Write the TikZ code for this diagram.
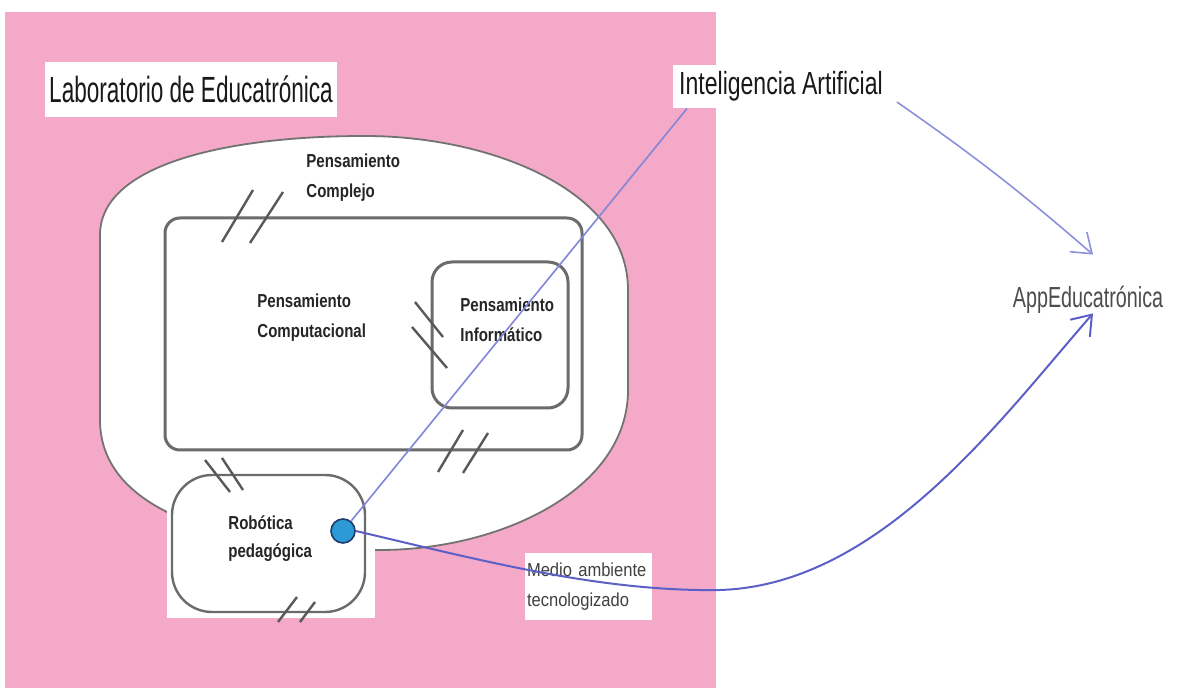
\documentclass[tikz,border=0pt]{standalone}
\usepackage{fontspec}
\setmainfont{Liberation Sans}
\newfontfamily\labfont[FakeStretch=0.62]{Liberation Sans}
\newfontfamily\iafont[FakeStretch=0.72]{Liberation Sans}
\newfontfamily\appfont[FakeStretch=0.68]{Liberation Sans}
\newfontfamily\boldcond[FakeStretch=0.8]{Liberation Sans}
\newfontfamily\medfont[FakeStretch=0.88]{Liberation Sans}
\usetikzlibrary{arrows.meta}
\definecolor{pinkbg}{HTML}{F3A9C7}
\definecolor{lineA}{HTML}{8285D8}
\definecolor{lineB}{HTML}{5C60C6}
\definecolor{lineC}{HTML}{8C8FDC}
\definecolor{dotfill}{HTML}{2D9AD8}
\definecolor{dotdraw}{HTML}{1E3D6A}
\pgfdeclarelayer{front}
\pgfsetlayers{main,front}
\tikzset{
  boldlbl/.style={font=\boldcond\bfseries\fontsize{9.4}{15}\selectfont, inner sep=0, text=black!85, align=left, anchor=west},
  hashmark/.style={draw=black!65, line width=1.2pt},
  frameline/.style={draw=black!58, line width=1.5pt},
  arrowline/.style={lineC, line width=0.8pt, -{Straight Barb[length=9pt,width=13pt]}}
}
\begin{document}
\begin{tikzpicture}[x=0.5pt,y=-0.5pt]
\useasboundingbox (0,0) rectangle (1192,688);
\fill[pinkbg] (5,12) rectangle (716,688);
% big shape: Pensamiento Complejo
\draw[draw=black!55, line width=0.9pt, fill=white]
  (100,235) .. controls (100,165) and (225,136) .. (365,136)
  .. controls (490,136) and (628,190) .. (628,290) -- (628,390)
  .. controls (628,490) and (500,550) .. (380,550)
  .. controls (250,550) and (100,520) .. (100,420) -- cycle;
\fill[white] (167,480) rectangle (375,618);
% Pensamiento Computacional frame
\draw[frameline, rounded corners=7.5pt] (165,218) rectangle (582,450);
% Pensamiento Informatico frame
\draw[frameline, rounded corners=10pt] (432,262) rectangle (568,408);
% Robotica frame
\draw[draw=black!58, line width=1.2pt, rounded corners=20pt] (172,475) rectangle (365,612);
% hash marks
\draw[hashmark] (253,190) -- (222,242);
\draw[hashmark] (283,192) -- (250,243);
\draw[hashmark] (415,302) -- (443,337);
\draw[hashmark] (412,327) -- (447,368);
\draw[hashmark] (463,430) -- (438,472);
\draw[hashmark] (488,433) -- (463,473);
\draw[hashmark] (205,460) -- (230,492);
\draw[hashmark] (222,458) -- (243,490);
\draw[hashmark] (297,597) -- (278,622);
\draw[hashmark] (315,602) -- (300,622);
% labels
\node[boldlbl] (pcomp) at (306,178) {Pensamiento\\Complejo};
\node[boldlbl] (pcomput) at (257,317.5) {Pensamiento\\Computacional};
\node[boldlbl] (pinf) at (460,320) {Pensamiento\\Informático};
\node[boldlbl, font=\boldcond\bfseries\fontsize{9.4}{14}\selectfont] (robot) at (228,539) {Robótica\\pedagógica};
\node[fill=white, minimum width=146pt, minimum height=27.5pt, inner sep=0,
      font=\labfont\fontsize{18.2}{20}\selectfont, text=black!90] (lab) at (191,89.5) {Laboratorio de Educatrónica};
\node[fill=white, minimum width=108.5pt, minimum height=21.5pt, inner sep=0,
      font=\iafont\fontsize{16}{18}\selectfont, text=black!90] (ia) at (781,86.5) {Inteligencia Artificial};
\node[inner sep=0, minimum height=24pt, font=\appfont\fontsize{14.5}{16}\selectfont, text=black!70] (app) at (1088,300) {AppEducatrónica};
\node[fill=white, minimum height=33.5pt, inner xsep=1pt, inner ysep=0pt, text width=61.5pt, align=left,
      font=\medfont\fontsize{9.4}{15}\selectfont, text=black!75] (medio) at (588.5,586.5) {Medio ambiente\\tecnologizado};
% dot on front layer
\begin{pgfonlayer}{front}
\node[circle, fill=dotfill, draw=dotdraw, line width=0.8pt, minimum size=12pt, inner sep=0] (dot) at (343,531) {};
\end{pgfonlayer}
% connectors
\draw[lineA, line width=0.8pt] (dot) -- ([xshift=7.5pt]ia.south west);
\draw[lineB, line width=1pt, -{Straight Barb[length=9pt,width=13pt]}]
  (dot.east) .. controls (480,560) and (600,592) .. (720,590)
  .. controls (880,585) and (1000,420) .. ([xshift=2.5pt,yshift=5.5pt]app.south);
\draw[arrowline] ([shift={(3.5pt,-7.75pt)}]ia.east) to[bend left=3] ([xshift=2.5pt,yshift=10.5pt]app.north);
\end{tikzpicture}
\end{document}
